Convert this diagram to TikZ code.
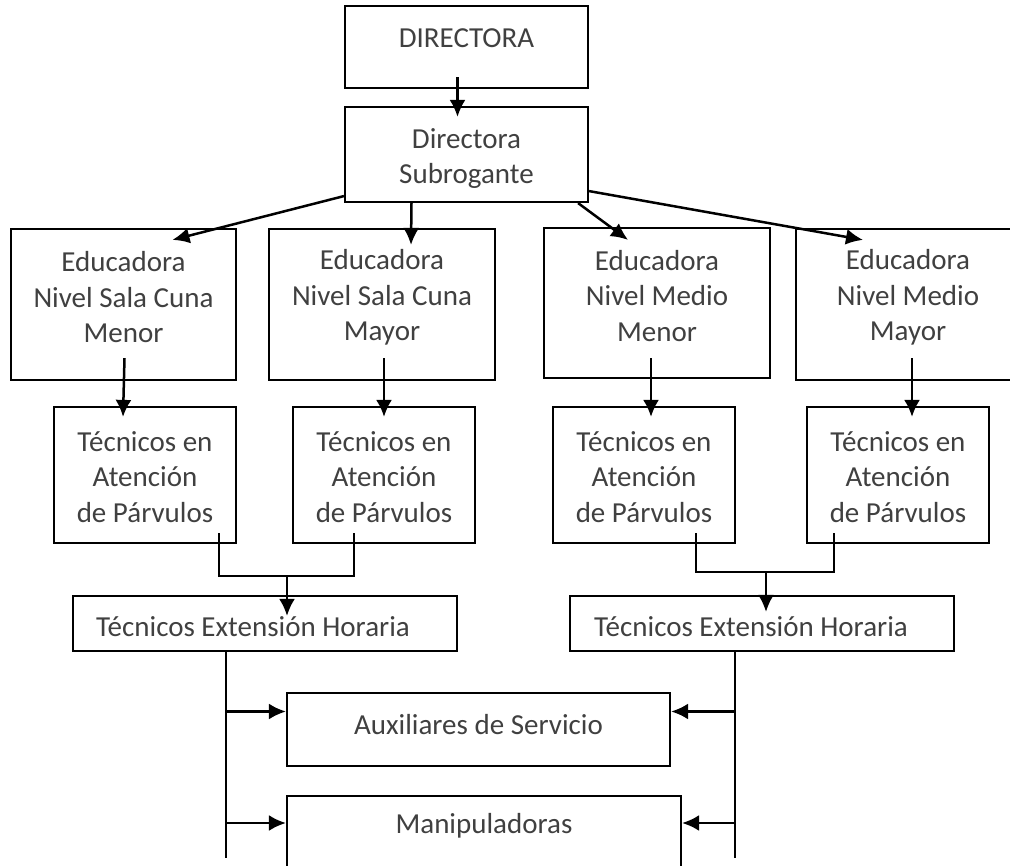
\documentclass[tikz,border=0pt]{standalone}
\usepackage{fontspec}
\setmainfont{Carlito}
\usetikzlibrary{fit,arrows.meta}
\definecolor{txtgray}{HTML}{404040}

\begin{document}
\begin{tikzpicture}[x=1pt, y=-1pt,
        >={Latex[length=17pt, width=16pt]},
        box/.style={draw, line width=2.2pt, inner sep=0pt},
        lbl/.style={font=\fontsize{29}{35.5}\selectfont, text=txtgray, align=center},
        link/.style={line width=2.5pt},
        trunk/.style={line width=1.8pt}]
        \clip (0, 0) rectangle (1010, 866);

        \node[box, fit={(345, 6) (588, 88)},    label={[lbl, yshift=9pt]center:DIRECTORA}] (dir) {};
        \node[box, fit={(345, 107) (588, 202)}, label={[lbl, yshift=-4pt]center:Directora\\Subrogante}] (sub) {};

        \node[box, fit={(11, 229) (236, 380)},   label={[lbl, yshift=7pt]center:Educadora\\Nivel Sala Cuna\\Menor}] (eduA) {};
        \node[box, fit={(269, 229) (495, 380)},  label={[lbl, yshift=7pt]center:Educadora\\Nivel Sala Cuna\\Mayor}] (eduB) {};
        \node[box, fit={(544, 228) (770, 378)},  label={[lbl, yshift=7pt]center:Educadora\\Nivel Medio\\Menor}] (eduC) {};
        \node[box, fit={(796, 229) (1020, 380)}, label={[lbl, yshift=7pt]center:Educadora\\Nivel Medio\\Mayor}] (eduD) {};

        \node[box, fit={(54, 407) (236, 543)},  label={[lbl, yshift=-2pt]center:Técnicos en\\Atención\\de Párvulos}] (tecA) {};
        \node[box, fit={(293, 407) (475, 543)}, label={[lbl, yshift=-2pt]center:Técnicos en\\Atención\\de Párvulos}] (tecB) {};
        \node[box, fit={(553, 407) (735, 543)}, label={[lbl, yshift=-2pt]center:Técnicos en\\Atención\\de Párvulos}] (tecC) {};
        \node[box, fit={(807, 407) (989, 543)}, label={[lbl, yshift=-2pt]center:Técnicos en\\Atención\\de Párvulos}] (tecD) {};

        \node[box, fit={(73, 596) (457, 651)},  label={[lbl, xshift=-12pt, yshift=-3pt]center:Técnicos Extensión Horaria}] (extA) {};
        \node[box, fit={(570, 596) (954, 651)}, label={[lbl, xshift=-11pt, yshift=-3pt]center:Técnicos Extensión Horaria}] (extB) {};

        \node[box, fit={(287, 693) (670, 766)}, label={[lbl, yshift=5pt]center:Auxiliares de Servicio}] (aux) {};
        \node[box, fit={(287, 796) (681, 880)}, label={[lbl, yshift=12pt]center:Manipuladoras}] (man) {};

        \coordinate (jA) at (287, 576);
        \coordinate (jB) at (766, 572);
        \coordinate (endA) at (226, 858);
        \coordinate (endB) at (735, 858);

        \draw [link, ->] ([xshift=-9pt, yshift=12pt]dir.south) -- ([xshift=-9pt, yshift=-11pt]sub.north);

        \draw [link, ->] ([yshift=7pt]sub.south west)   -- ([xshift=49pt, yshift=-12pt]eduA.north);
        \draw [link, ->] ([xshift=-55pt]sub.south)      -- ([xshift=29pt, yshift=-17pt]eduB.north);
        \draw [link, ->] ([xshift=-11pt]sub.south east) -- ([xshift=-29pt, yshift=-13pt]eduC.north);
        \draw [link, ->] ([yshift=12pt]sub.south east)  -- ([xshift=-45pt, yshift=-12pt]eduD.north);

        \draw [link, ->] ([xshift=1pt, yshift=23pt]eduA.south)  -- ([xshift=-22pt, yshift=-11pt]tecA.north);
        \draw [link, ->] ([xshift=2pt, yshift=23pt]eduB.south)  -- ([yshift=-11pt]tecB.north);
        \draw [link, ->] ([xshift=-6pt, yshift=21pt]eduC.south) -- ([xshift=7pt, yshift=-11pt]tecC.north);
        \draw [link, ->] ([xshift=4pt, yshift=23pt]eduD.south)  -- ([xshift=14pt, yshift=-11pt]tecD.north);

        \draw [link] ([xshift=-18pt, yshift=11pt]tecA.south east) |- (jA) -| ([xshift=-30pt, yshift=11pt]tecB.south);
        \draw [link, ->] (jA) -- ([xshift=22pt, yshift=-21pt]extA.north);
        \draw [link] ([xshift=52pt, yshift=11pt]tecC.south) |- (jB) -| ([xshift=-64pt, yshift=11pt]tecD.south);
        \draw [link, ->] (jB) -- ([xshift=4pt, yshift=-17pt]extB.north);

        \draw [trunk] ([xshift=-39pt]extA.south) -- (endA);
        \draw [trunk] ([xshift=-27pt]extB.south) -- (endB);

        \draw [link, <-] ([yshift=18pt]aux.west) -- +(-61, 0);
        \draw [link, <-] ([yshift=15pt]man.west) -- +(-61, 0);
        \draw [link, <-] ([yshift=18pt]aux.east) -- +(65, 0);
        \draw [link, <-] ([yshift=15pt]man.east) -- +(54, 0);
\end{tikzpicture}
\end{document}
